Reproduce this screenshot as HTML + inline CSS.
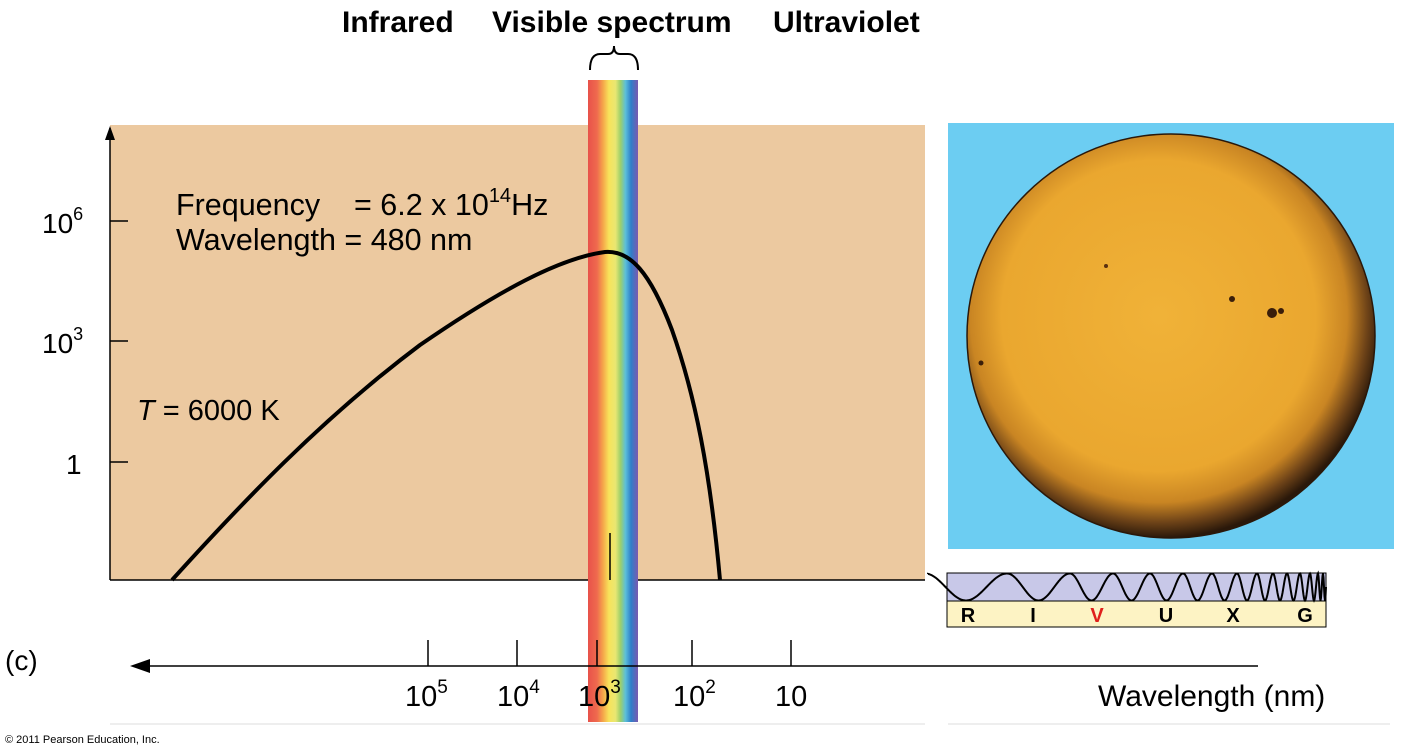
<!DOCTYPE html>
<html><head><meta charset="utf-8"><style>
html,body{margin:0;padding:0;background:#fff;}
svg{display:block;font-family:"Liberation Sans",Arial,sans-serif;}
</style></head><body>
<svg width="1402" height="755" viewBox="0 0 1402 755" xmlns="http://www.w3.org/2000/svg">
<defs>
<linearGradient id="rb" x1="0" x2="1" y1="0" y2="0">
<stop offset="0" stop-color="#e8524a"/>
<stop offset="0.18" stop-color="#ef6a4e"/>
<stop offset="0.3" stop-color="#f5a64a"/>
<stop offset="0.42" stop-color="#f8e35a"/>
<stop offset="0.55" stop-color="#e9e772"/>
<stop offset="0.65" stop-color="#9dcf6a"/>
<stop offset="0.75" stop-color="#5bbfd9"/>
<stop offset="0.86" stop-color="#2f7fc9"/>
<stop offset="1" stop-color="#7a5ab0"/>
</linearGradient>
<radialGradient id="sun" cx="0.47" cy="0.45" r="0.55">
<stop offset="0" stop-color="#f0b238"/>
<stop offset="0.7" stop-color="#eaa72f"/>
<stop offset="0.84" stop-color="#c98523"/>
<stop offset="0.93" stop-color="#6e4318"/>
<stop offset="1" stop-color="#2a180a"/>
</radialGradient>
</defs>
<rect x="110" y="125" width="815" height="455" fill="#ecc9a0"/>
<line x1="110" y1="128" x2="110" y2="580" stroke="#000" stroke-width="1.5"/>
<polygon points="105,140 110,126 115,140" fill="#000"/>
<line x1="110" y1="580" x2="925" y2="580" stroke="#000" stroke-width="1.5"/>
<g stroke="#000" stroke-width="1.5">
<line x1="110" y1="221" x2="128" y2="221"/>
<line x1="110" y1="341" x2="128" y2="341"/>
<line x1="110" y1="462" x2="128" y2="462"/>
</g>
<g font-size="28" fill="#000">
<text x="42" y="233">10<tspan font-size="18" dy="-13">6</tspan></text>
<text x="42" y="353">10<tspan font-size="18" dy="-13">3</tspan></text>
<text x="66" y="474">1</text>
<text x="176" y="215" font-size="30.5" xml:space="preserve">Frequency    = 6.2 x 10<tspan font-size="20" dy="-13">14</tspan><tspan dy="13">Hz</tspan></text>
<text x="176" y="250" font-size="30.5">Wavelength = 480 nm</text>
<text x="137" y="420" font-size="29"><tspan font-style="italic">T</tspan> = 6000 K</text>
</g>
<rect x="588" y="80" width="50" height="642" fill="url(#rb)"/>
<path d="M590,70 Q590,54 600,54 L608,54 Q614,54 614,46 Q614,54 620,54 L628,54 Q638,54 638,70" fill="none" stroke="#000" stroke-width="2"/>
<path d="M172,580 C240,505 320,420 420,345 C500,290 560,258 605,252 C630,250 650,272 672,330 C695,395 710,470 720,580" fill="none" stroke="#000" stroke-width="4"/>
<line x1="610" y1="533" x2="610" y2="580" stroke="#000" stroke-width="1.5"/>
<g font-size="30" font-weight="bold" fill="#000">
<text x="342" y="32">Infrared</text>
<text x="492" y="32">Visible spectrum</text>
<text x="773" y="32">Ultraviolet</text>
</g>
<line x1="150" y1="666" x2="1258" y2="666" stroke="#000" stroke-width="1.5"/>
<polygon points="130,666 150,659 150,673" fill="#000"/>
<g stroke="#000" stroke-width="1.5">
<line x1="428" y1="640" x2="428" y2="666"/>
<line x1="517" y1="640" x2="517" y2="666"/>
<line x1="597" y1="640" x2="597" y2="666"/>
<line x1="692" y1="640" x2="692" y2="666"/>
<line x1="791" y1="640" x2="791" y2="666"/>
</g>
<g font-size="29" fill="#000">
<text x="405" y="706">10<tspan font-size="19" dy="-13">5</tspan></text>
<text x="497" y="706">10<tspan font-size="19" dy="-13">4</tspan></text>
<text x="578" y="706">10<tspan font-size="19" dy="-13">3</tspan></text>
<text x="673" y="706">10<tspan font-size="19" dy="-13">2</tspan></text>
<text x="775" y="706">10</text>
<text x="1098" y="706" font-size="30">Wavelength (nm)</text>
<text x="5" y="670" font-size="28">(c)</text>
</g>
<line x1="110" y1="724" x2="925" y2="724" stroke="#ddd" stroke-width="1"/>
<line x1="948" y1="724" x2="1390" y2="724" stroke="#ddd" stroke-width="1"/>
<text x="5" y="743" font-size="11" fill="#000">© 2011 Pearson Education, Inc.</text>
<rect x="948" y="123" width="446" height="426" fill="#6ccdf2"/>
<ellipse cx="1171" cy="336" rx="204" ry="202" fill="url(#sun)" stroke="#2a180a" stroke-width="1.5"/>
<circle cx="1232" cy="299" r="3" fill="#3a1e0a"/>
<circle cx="1272" cy="313" r="5" fill="#3a1e0a"/>
<circle cx="1281" cy="311" r="3" fill="#3a1e0a"/>
<circle cx="981" cy="363" r="2.5" fill="#3a1e0a"/>
<circle cx="1106" cy="266" r="2" fill="#5a3010"/>
<rect x="947" y="573" width="379" height="28" fill="#c8c8e8" stroke="#000" stroke-width="1"/>
<rect x="947" y="601" width="379" height="26" fill="#fdf3c4" stroke="#000" stroke-width="1"/>
<path id="wave" d="" fill="none" stroke="#000" stroke-width="2"/>
<g font-size="20" font-weight="bold" fill="#000" text-anchor="middle">
<text x="968" y="622">R</text>
<text x="1033" y="622">I</text>
<text x="1097" y="622" fill="#e0201c">V</text>
<text x="1166" y="622">U</text>
<text x="1233" y="622">X</text>
<text x="1305" y="622">G</text>
</g>
</svg>
<script>
(function(){
var peaks=[925,1007,1070,1113,1150,1183,1212,1237,1257,1273,1287,1300,1310,1318,1323,1327];
var yc=587,a=13.5,pts=[];
for(var x=928;x<=1326;x+=0.5){
 var k=0;while(k<peaks.length-2&&x>peaks[k+1])k++;
 var f=(x-peaks[k])/(peaks[k+1]-peaks[k]);
 var ph=2*Math.PI*(k+f);
 var y=yc-a*Math.cos(ph);
 pts.push(x.toFixed(1)+","+y.toFixed(1));}
document.getElementById("wave").setAttribute("d","M928,574 L"+pts.join(" L"));
})();
</script>
</body></html>
